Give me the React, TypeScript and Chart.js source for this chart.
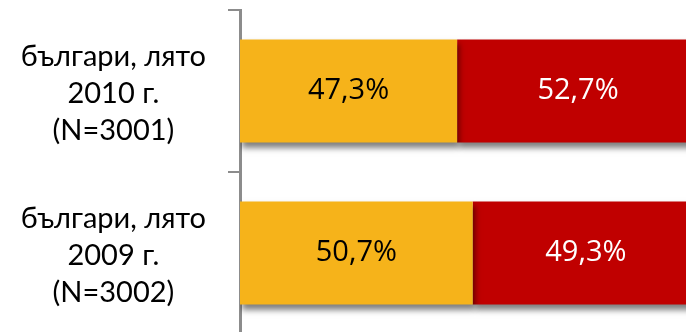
import React, { useEffect, useRef } from "react";
import { Chart, registerables } from "chart.js";

Chart.register(...registerables);

const categories: string[][] = [
  ["българи, лято", "2010 г.", "(N=3001)"],
  ["българи, лято", "2009 г.", "(N=3002)"],
];
const seriesA: number[] = [47.3, 50.7];
const seriesB: number[] = [52.7, 49.3];
const seriesNames = ["A", "B"];
const labelColors = ["#000000", "#ffffff"];

const fmt = (v: number) => v.toFixed(1).replace(".", ",") + "%";

const shadowAndLabels = {
  id: "shadowAndLabels",
  beforeDatasetsDraw(chart: any) {
    const ctx = chart.ctx;
    ctx.save();
    ctx.shadowColor = "rgba(0,0,0,0.5)";
    ctx.shadowBlur = 6;
    ctx.shadowOffsetX = 2;
    ctx.shadowOffsetY = 5;
  },
  afterDatasetsDraw(chart: any) {
    const ctx = chart.ctx;
    ctx.restore();
    ctx.save();
    ctx.font = "29px 'Open Sans'";
    ctx.textAlign = "center";
    ctx.textBaseline = "middle";
    chart.data.datasets.forEach((ds: any, i: number) => {
      const meta = chart.getDatasetMeta(i);
      meta.data.forEach((el: any, j: number) => {
        const left = Math.min(el.x, el.base);
        const right = Math.max(el.x, el.base);
        ctx.fillStyle = labelColors[i];
        ctx.fillText(fmt(ds.data[j]), (left + right) / 2, el.y);
      });
    });
    ctx.restore();
  },
};

export default function App() {
  const ref = useRef<HTMLCanvasElement>(null);
  useEffect(() => {
    if (!ref.current) return;
    const chart = new Chart(ref.current, {
      type: "bar",
      data: {
        labels: categories as any,
        datasets: [
          {
            label: seriesNames[0],
            data: seriesA,
            backgroundColor: "#F6B31A",
            categoryPercentage: 1,
            barPercentage: 0.636,
          },
          {
            label: seriesNames[1],
            data: seriesB,
            backgroundColor: "#C00000",
            categoryPercentage: 1,
            barPercentage: 0.636,
          },
        ],
      },
      options: {
        indexAxis: "y",
        responsive: false,
        animation: false,
        layout: { padding: { left: 0, top: 10, right: 21, bottom: 6 } },
        plugins: {
          legend: { display: false },
          tooltip: { enabled: false },
        },
        scales: {
          x: {
            stacked: true,
            min: 0,
            max: 100,
            display: false,
          },
          y: {
            stacked: true,
            afterFit: (scale: any) => {
              scale.width = 240;
              scale.paddingTop = 0;
              scale.paddingBottom = 0;
            },
            border: { display: true, color: "#8C8C8C", width: 3 },
            grid: {
              display: true,
              drawOnChartArea: false,
              drawTicks: true,
              tickLength: 12,
              color: "#8C8C8C",
              lineWidth: 2,
              offset: true,
            },
            ticks: {
              crossAlign: "center",
              padding: 22,
              labelOffset: 3,
              color: "#000000",
              font: { family: "Lato", size: 29, lineHeight: 1.28 },
            },
          },
        },
      },
      plugins: [shadowAndLabels],
    });
    return () => chart.destroy();
  }, []);
  return (
    <div
      style={{
        position: "fixed",
        left: 0,
        top: 0,
        width: 686,
        height: 332,
        overflow: "hidden",
        background: "#fff",
      }}
    >
      <canvas ref={ref} width={720} height={340} />
    </div>
  );
}
